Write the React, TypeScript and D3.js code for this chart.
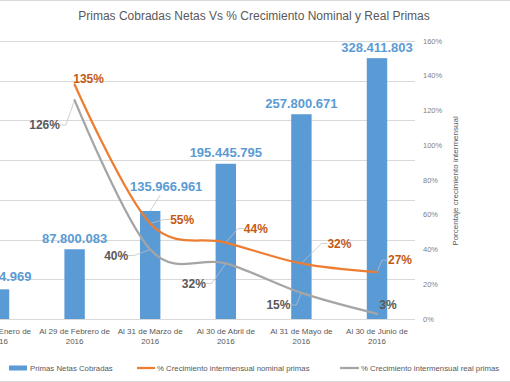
import React from "react";
import * as d3 from "d3";

const categories = [
  "Al 31 de Enero de 2016",
  "Al 29 de Febrero de 2016",
  "Al 31 de Marzo de 2016",
  "Al 30 de Abril de 2016",
  "Al 31 de Mayo de 2016",
  "Al 30 de Junio de 2016",
];
const primas = [37364969, 87800083, 135966961, 195445795, 257800671, 328411803];
const nominal = [null, 1.35, 0.55, 0.44, 0.32, 0.27];
const real = [null, 1.26, 0.40, 0.32, 0.15, 0.03];
const rightTicks = [0, 0.2, 0.4, 0.6, 0.8, 1.0, 1.2, 1.4, 1.6];
const leftTicks = [0, 50e6, 100e6, 150e6, 200e6, 250e6, 300e6, 350e6];

const title = "Primas Cobradas Netas Vs % Crecimiento Nominal y Real Primas";
const axisTitle = "Porcentaje crecimiento intermensual";
const legendLabels = [
  "Primas Netas Cobradas",
  "% Crecimiento intermensual nominal primas",
  "% Crecimiento intermensual real primas",
];

// label layout (offset of label centre from its point), leader flag
const barLabelPos = [
  { dx: 0, dy: -13, leader: false },
  { dx: 0, dy: -11, leader: false },
  { dx: 16, dy: -25, leader: true },
  { dx: 0, dy: -11, leader: false },
  { dx: 0, dy: -11, leader: false },
  { dx: 0, dy: -11, leader: false },
];
const nomLabelPos = [
  null,
  { dx: 14, dy: -6, leader: false },
  { dx: 32, dy: -4, leader: true },
  { dx: 30, dy: -14, leader: true },
  { dx: 38, dy: -20, leader: true },
  { dx: 23, dy: -12, leader: true },
];
const realLabelPos = [
  null,
  { dx: -30, dy: 25, leader: true },
  { dx: -34, dy: 6, leader: true },
  { dx: -32, dy: 20, leader: true },
  { dx: -23, dy: 12, leader: true },
  { dx: 11, dy: -9, leader: false },
];

const W = 510;
const H = 382;
const FONT = "'Liberation Sans', Arial, sans-serif";
const BLUE = "#5B9BD5";
const ORANGE = "#ED7D31";
const GRAY = "#A5A5A5";
const ORANGE_TXT = "#C55A11";
const GRAY_TXT = "#595959";

const fmtNum = (v: number) =>
  Math.round(v)
    .toString()
    .replace(/\B(?=(\d{3})+(?!\d))/g, ".");
const fmtPct = (v: number) => `${Math.round(v * 100)}%`;

export default function App() {
  const plotTop = 41;
  const plotBottom = 319;
  const x = d3.scaleBand<string>().domain(categories).range([-38.8, 414.8]).padding(0);
  const cx = (c: string) => (x(c) as number) + x.bandwidth() / 2;
  const barW = x.bandwidth() * 0.27;
  const yL = d3.scaleLinear().domain([0, 350e6]).range([plotBottom, plotTop]);
  const yR = d3.scaleLinear().domain([0, 1.6]).range([plotBottom, plotTop]);

  const lineGen = d3
    .line<[number, number]>()
    .x((d) => d[0])
    .y((d) => d[1])
    .curve(d3.curveCardinal.tension(0));

  const pts = (arr: (number | null)[]) =>
    arr
      .map((v, i) => (v == null ? null : ([cx(categories[i]), yR(v)] as [number, number])))
      .filter((p) => p != null) as [number, number][];

  const charW = (s: string, size: number) => s.length * size * 0.55;

  const leaderPath = (
    px: number,
    py: number,
    lx: number,
    ly: number,
    text: string,
    size: number
  ) => {
    const hw = charW(text, size) / 2 + 2;
    const edge = lx > px ? lx - hw : lx + hw;
    const dir = lx > px ? -1 : 1;
    return `M${px},${py}L${edge + dir * 6},${ly}L${edge},${ly}`;
  };

  return (
    <svg
      width={W}
      height={H}
      style={{ position: "absolute", left: 0, top: 0, background: "#fff" }}
      fontFamily={FONT}
    >
      <rect x={0} y={0} width={W} height={H} fill="#fff" />
      <line x1={0} x2={W} y1={0.5} y2={0.5} stroke="#D9D9D9" />
      <line x1={0} x2={W} y1={381.5} y2={381.5} stroke="#D9D9D9" />

      <text x={254} y={20} textAnchor="middle" fontSize={12} fill="#595959">
        {title}
      </text>

      {/* gridlines */}
      {leftTicks.map((t) => (
        <line
          key={t}
          x1={-38.8}
          x2={415}
          y1={Math.round(yL(t)) + 0.5}
          y2={Math.round(yL(t)) + 0.5}
          stroke="#D9D9D9"
          strokeWidth={1}
        />
      ))}

      {/* right axis ticks */}
      {rightTicks.map((t) => (
        <text
          key={t}
          x={423}
          y={yR(t)}
          dy="0.35em"
          fontSize={7.5}
          fill="#7F7F7F"
        >
          {fmtPct(t)}
        </text>
      ))}
      <text
        transform={`translate(455,181) rotate(-90)`}
        textAnchor="middle"
        dy="0.35em"
        fontSize={8}
        fill="#595959"
      >
        {axisTitle}
      </text>

      {/* bars */}
      {primas.map((v, i) => (
        <rect
          key={i}
          x={cx(categories[i]) - barW / 2}
          y={yL(v)}
          width={barW}
          height={yL(0) - yL(v)}
          fill={BLUE}
        />
      ))}

      {/* leaders */}
      <g stroke="#BFBFBF" strokeWidth={0.75} fill="none">
        {primas.map((v, i) => {
          const p = barLabelPos[i];
          if (!p.leader) return null;
          const px = cx(categories[i]);
          const py = yL(v);
          return (
            <path
              key={"bl" + i}
              d={`M${px},${py}L${px + p.dx - 6},${py + p.dy + 9}`}
            />
          );
        })}
        {nominal.map((v, i) => {
          const p = nomLabelPos[i];
          if (v == null || !p || !p.leader) return null;
          const px = cx(categories[i]);
          const py = yR(v);
          return (
            <path
              key={"nl" + i}
              d={leaderPath(px, py, px + p.dx, py + p.dy, fmtPct(v), 12)}
            />
          );
        })}
        {real.map((v, i) => {
          const p = realLabelPos[i];
          if (v == null || !p || !p.leader) return null;
          const px = cx(categories[i]);
          const py = yR(v);
          return (
            <path
              key={"rl" + i}
              d={leaderPath(px, py, px + p.dx, py + p.dy, fmtPct(v), 12)}
            />
          );
        })}
      </g>

      {/* lines */}
      <path
        d={lineGen(pts(real)) || ""}
        fill="none"
        stroke={GRAY}
        strokeWidth={2.25}
        strokeLinecap="round"
      />
      <path
        d={lineGen(pts(nominal)) || ""}
        fill="none"
        stroke={ORANGE}
        strokeWidth={2.25}
        strokeLinecap="round"
      />

      {/* bar labels */}
      {primas.map((v, i) => {
        const p = barLabelPos[i];
        return (
          <text
            key={"bt" + i}
            x={cx(categories[i]) + p.dx}
            y={yL(v) + p.dy}
            dy="0.35em"
            textAnchor="middle"
            fontSize={13}
            fontWeight="bold"
            fill={BLUE}
          >
            {fmtNum(v)}
          </text>
        );
      })}
      {nominal.map((v, i) => {
        const p = nomLabelPos[i];
        if (v == null || !p) return null;
        return (
          <text
            key={"nt" + i}
            x={cx(categories[i]) + p.dx}
            y={yR(v) + p.dy}
            dy="0.35em"
            textAnchor="middle"
            fontSize={12}
            fontWeight="bold"
            fill={ORANGE_TXT}
          >
            {fmtPct(v)}
          </text>
        );
      })}
      {real.map((v, i) => {
        const p = realLabelPos[i];
        if (v == null || !p) return null;
        return (
          <text
            key={"rt" + i}
            x={cx(categories[i]) + p.dx}
            y={yR(v) + p.dy}
            dy="0.35em"
            textAnchor="middle"
            fontSize={12}
            fontWeight="bold"
            fill={GRAY_TXT}
          >
            {fmtPct(v)}
          </text>
        );
      })}

      {/* category labels */}
      {categories.map((c) => {
        const k = c.lastIndexOf(" ");
        return (
          <text
            key={c}
            x={cx(c)}
            y={331}
            textAnchor="middle"
            fontSize={8}
            fill="#595959"
          >
            <tspan x={cx(c)} dy="0.35em">
              {c.slice(0, k)}
            </tspan>
            <tspan x={cx(c)} dy="10.5">
              {c.slice(k + 1)}
            </tspan>
          </text>
        );
      })}

      {/* legend */}
      <g fontSize={7.8} fill="#595959">
        <rect x={9} y={365.5} width={18} height={5} fill={BLUE} />
        <text x={30} y={368} dy="0.35em">
          {legendLabels[0]}
        </text>
        <line x1={137} x2={155} y1={368} y2={368} stroke={ORANGE} strokeWidth={2.25} />
        <text x={157} y={368} dy="0.35em">
          {legendLabels[1]}
        </text>
        <line x1={340} x2={359} y1={368} y2={368} stroke={GRAY} strokeWidth={2.25} />
        <text x={361} y={368} dy="0.35em">
          {legendLabels[2]}
        </text>
      </g>
    </svg>
  );
}
